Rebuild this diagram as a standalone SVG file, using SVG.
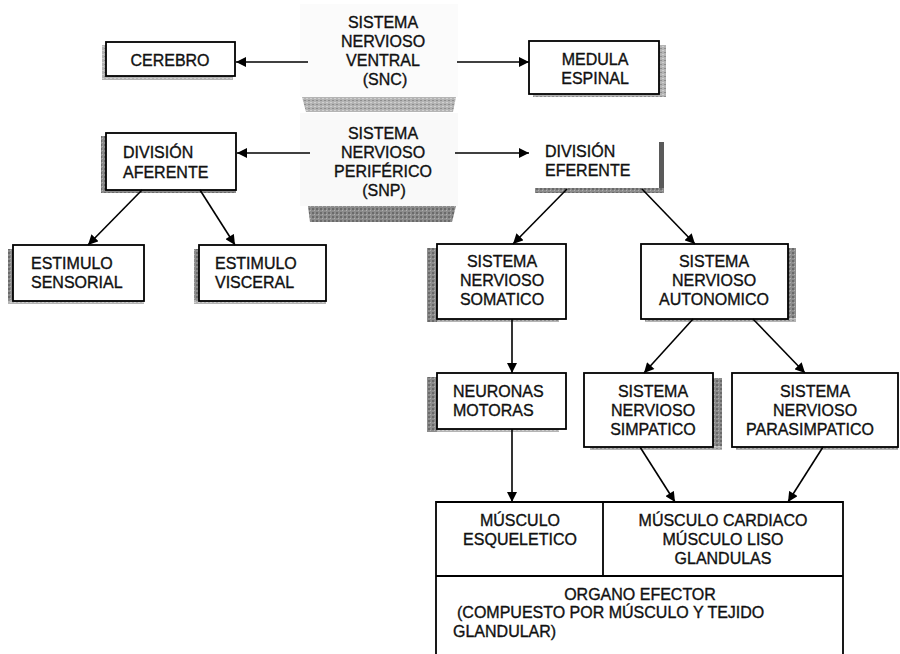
<svg xmlns="http://www.w3.org/2000/svg" width="900" height="654" viewBox="0 0 900 654">
<defs>
<pattern id="hatch" width="4" height="4" patternUnits="userSpaceOnUse">
<rect width="4" height="4" fill="#8c8c8c"/>
<rect x="0" y="0" width="2" height="2" fill="#6a6a6a"/>
<rect x="2" y="2" width="1" height="1" fill="#b0b0b0"/>
</pattern>
<pattern id="hatchLight" width="4" height="4" patternUnits="userSpaceOnUse">
<rect width="4" height="4" fill="#b4b4b4"/>
<rect x="0" y="0" width="2" height="1" fill="#8e8e8e"/>
<rect x="2" y="2" width="2" height="1" fill="#d0d0d0"/>
</pattern>
<marker id="ah" viewBox="0 0 10 10" refX="10" refY="5" markerWidth="11" markerHeight="10" markerUnits="userSpaceOnUse" orient="auto">
<path d="M0,0 L10,5 L0,10 Z" fill="#000"/>
</marker>
</defs>
<style>
.box{fill:#fff;stroke:#000;stroke-width:1.8}
.sh{fill:url(#hatch)}
.shl{fill:url(#hatchLight)}
.t{font-family:"Liberation Sans",Arial,sans-serif;font-size:16px;fill:#111;stroke:#111;stroke-width:0.35}
.c{text-anchor:middle}
.conn{stroke:#000;stroke-width:1.6;fill:none;marker-end:url(#ah)}
</style>
<rect width="900" height="654" fill="#fff"/>

<g id="snc">
<rect x="300" y="4" width="158" height="93" fill="#fbfbfb"/>
<polygon points="302,97 456,97 453,112 306,112" class="shl"/>
<text class="t c" x="383" y="28">SISTEMA</text>
<text class="t c" x="383" y="47">NERVIOSO</text>
<text class="t c" x="383" y="66">VENTRAL</text>
<text class="t c" x="385" y="85">(SNC)</text>
</g>

<g id="cerebro">
<rect x="102" y="45" width="5" height="35" class="shl"/>
<rect x="102" y="76" width="131" height="4" class="shl"/>
<rect x="106" y="42" width="129" height="34" class="box"/>
<text class="t c" x="170" y="66">CEREBRO</text>
</g>

<g id="medula">
<rect x="658" y="45" width="8" height="52" class="shl"/>
<rect x="533" y="93" width="133" height="4" class="shl"/>
<rect x="529" y="41" width="130" height="53" class="box"/>
<text class="t c" x="595" y="65">MEDULA</text>
<text class="t c" x="595" y="84">ESPINAL</text>
</g>

<g id="snp">
<rect x="300" y="113" width="158" height="93" fill="#f9f9f9"/>
<polygon points="308,206 456,206 452,222 310,222" class="sh"/>
<text class="t c" x="383" y="139">SISTEMA</text>
<text class="t c" x="383" y="158">NERVIOSO</text>
<text class="t c" x="383" y="177">PERIFÉRICO</text>
<text class="t c" x="384" y="196">(SNP)</text>
</g>

<g id="aferente">
<rect x="101" y="136" width="6" height="57" class="sh"/>
<rect x="101" y="189" width="135" height="4" class="sh"/>
<rect x="106" y="133" width="130" height="57" class="box"/>
<text class="t" x="123" y="158">DIVISIÓN</text>
<text class="t" x="123" y="178">AFERENTE</text>
</g>

<g id="eferente">
<rect x="659" y="142" width="5" height="51" fill="#5a5a5a"/>
<rect x="535" y="188" width="129" height="5" class="sh"/>
<text class="t" x="545" y="157">DIVISIÓN</text>
<text class="t" x="545" y="176">EFERENTE</text>
</g>

<g id="sensorial">
<rect x="8" y="249" width="6" height="55" class="sh"/>
<rect x="8" y="300" width="136" height="4" class="shl"/>
<rect x="13" y="245" width="131" height="56" class="box"/>
<text class="t" x="31" y="269">ESTIMULO</text>
<text class="t" x="31" y="288">SENSORIAL</text>
</g>

<g id="visceral">
<rect x="194" y="249" width="6" height="55" class="sh"/>
<rect x="194" y="300" width="132" height="4" class="shl"/>
<rect x="199" y="245" width="127" height="56" class="box"/>
<text class="t" x="215" y="269">ESTIMULO</text>
<text class="t" x="215" y="288">VISCERAL</text>
</g>

<g id="somatico">
<rect x="427" y="248" width="11" height="74" class="sh"/>
<rect x="437" y="318" width="122" height="4" class="shl"/>
<rect x="437" y="244" width="129" height="75" class="box"/>
<text class="t c" x="502" y="267">SISTEMA</text>
<text class="t c" x="502" y="286">NERVIOSO</text>
<text class="t c" x="502" y="305">SOMATICO</text>
</g>

<g id="autonomico">
<rect x="787" y="248" width="9" height="74" class="sh"/>
<rect x="645" y="318" width="151" height="4" class="shl"/>
<rect x="641" y="244" width="147" height="75" class="box"/>
<text class="t c" x="714" y="267">SISTEMA</text>
<text class="t c" x="714" y="286">NERVIOSO</text>
<text class="t c" x="714" y="305">AUTONOMICO</text>
</g>

<g id="neuronas">
<rect x="427" y="377" width="11" height="55" class="sh"/>
<rect x="437" y="428" width="122" height="4" class="shl"/>
<rect x="437" y="373" width="129" height="56" class="box"/>
<text class="t" x="453" y="397">NEURONAS</text>
<text class="t" x="453" y="416">MOTORAS</text>
</g>

<g id="simpatico">
<rect x="712" y="378" width="10" height="72" class="sh"/>
<rect x="590" y="446" width="132" height="4" class="shl"/>
<rect x="584" y="373" width="129" height="74" class="box"/>
<text class="t c" x="653" y="397">SISTEMA</text>
<text class="t c" x="653" y="416">NERVIOSO</text>
<text class="t c" x="653" y="435">SIMPATICO</text>
</g>

<g id="parasimpatico">
<rect x="736" y="446" width="162" height="4" class="shl"/>
<rect x="732" y="373" width="166" height="74" class="box"/>
<text class="t c" x="815" y="397">SISTEMA</text>
<text class="t c" x="815" y="416">NERVIOSO</text>
<text class="t c" x="810" y="435">PARASIMPATICO</text>
</g>

<g id="organo">
<path d="M436,660 V502 H843 V660" class="box"/>
<line x1="436" y1="576" x2="843" y2="576" stroke="#000" stroke-width="1.8"/>
<line x1="603" y1="502" x2="603" y2="576" stroke="#000" stroke-width="1.8"/>
<text class="t c" x="520" y="526">MÚSCULO</text>
<text class="t c" x="520" y="545">ESQUELETICO</text>
<text class="t c" x="723" y="526">MÚSCULO CARDIACO</text>
<text class="t c" x="723" y="545">MÚSCULO LISO</text>
<text class="t c" x="723" y="564">GLANDULAS</text>
<text class="t c" x="640" y="600">ORGANO EFECTOR</text>
<text class="t" x="457" y="618">(COMPUESTO POR MÚSCULO Y TEJIDO</text>
<text class="t" x="453" y="637">GLANDULAR)</text>
</g>

<g id="connectors">
<line class="conn" x1="308" y1="62" x2="236" y2="62"/>
<line class="conn" x1="457" y1="62" x2="529" y2="62"/>
<line class="conn" x1="310" y1="153" x2="237" y2="153"/>
<line class="conn" x1="455" y1="153" x2="529" y2="153"/>
<line class="conn" x1="142" y1="190" x2="88" y2="245"/>
<line class="conn" x1="200" y1="190" x2="235" y2="245"/>
<line class="conn" x1="567" y1="189" x2="513" y2="244"/>
<line class="conn" x1="642" y1="189" x2="695" y2="244"/>
<line class="conn" x1="512" y1="319" x2="512" y2="373"/>
<line class="conn" x1="693" y1="319" x2="644" y2="373"/>
<line class="conn" x1="753" y1="319" x2="805" y2="373"/>
<line class="conn" x1="512" y1="429" x2="512" y2="502"/>
<line class="conn" x1="640" y1="447" x2="675" y2="502"/>
<line class="conn" x1="823" y1="447" x2="788" y2="502"/>
</g>
</svg>
